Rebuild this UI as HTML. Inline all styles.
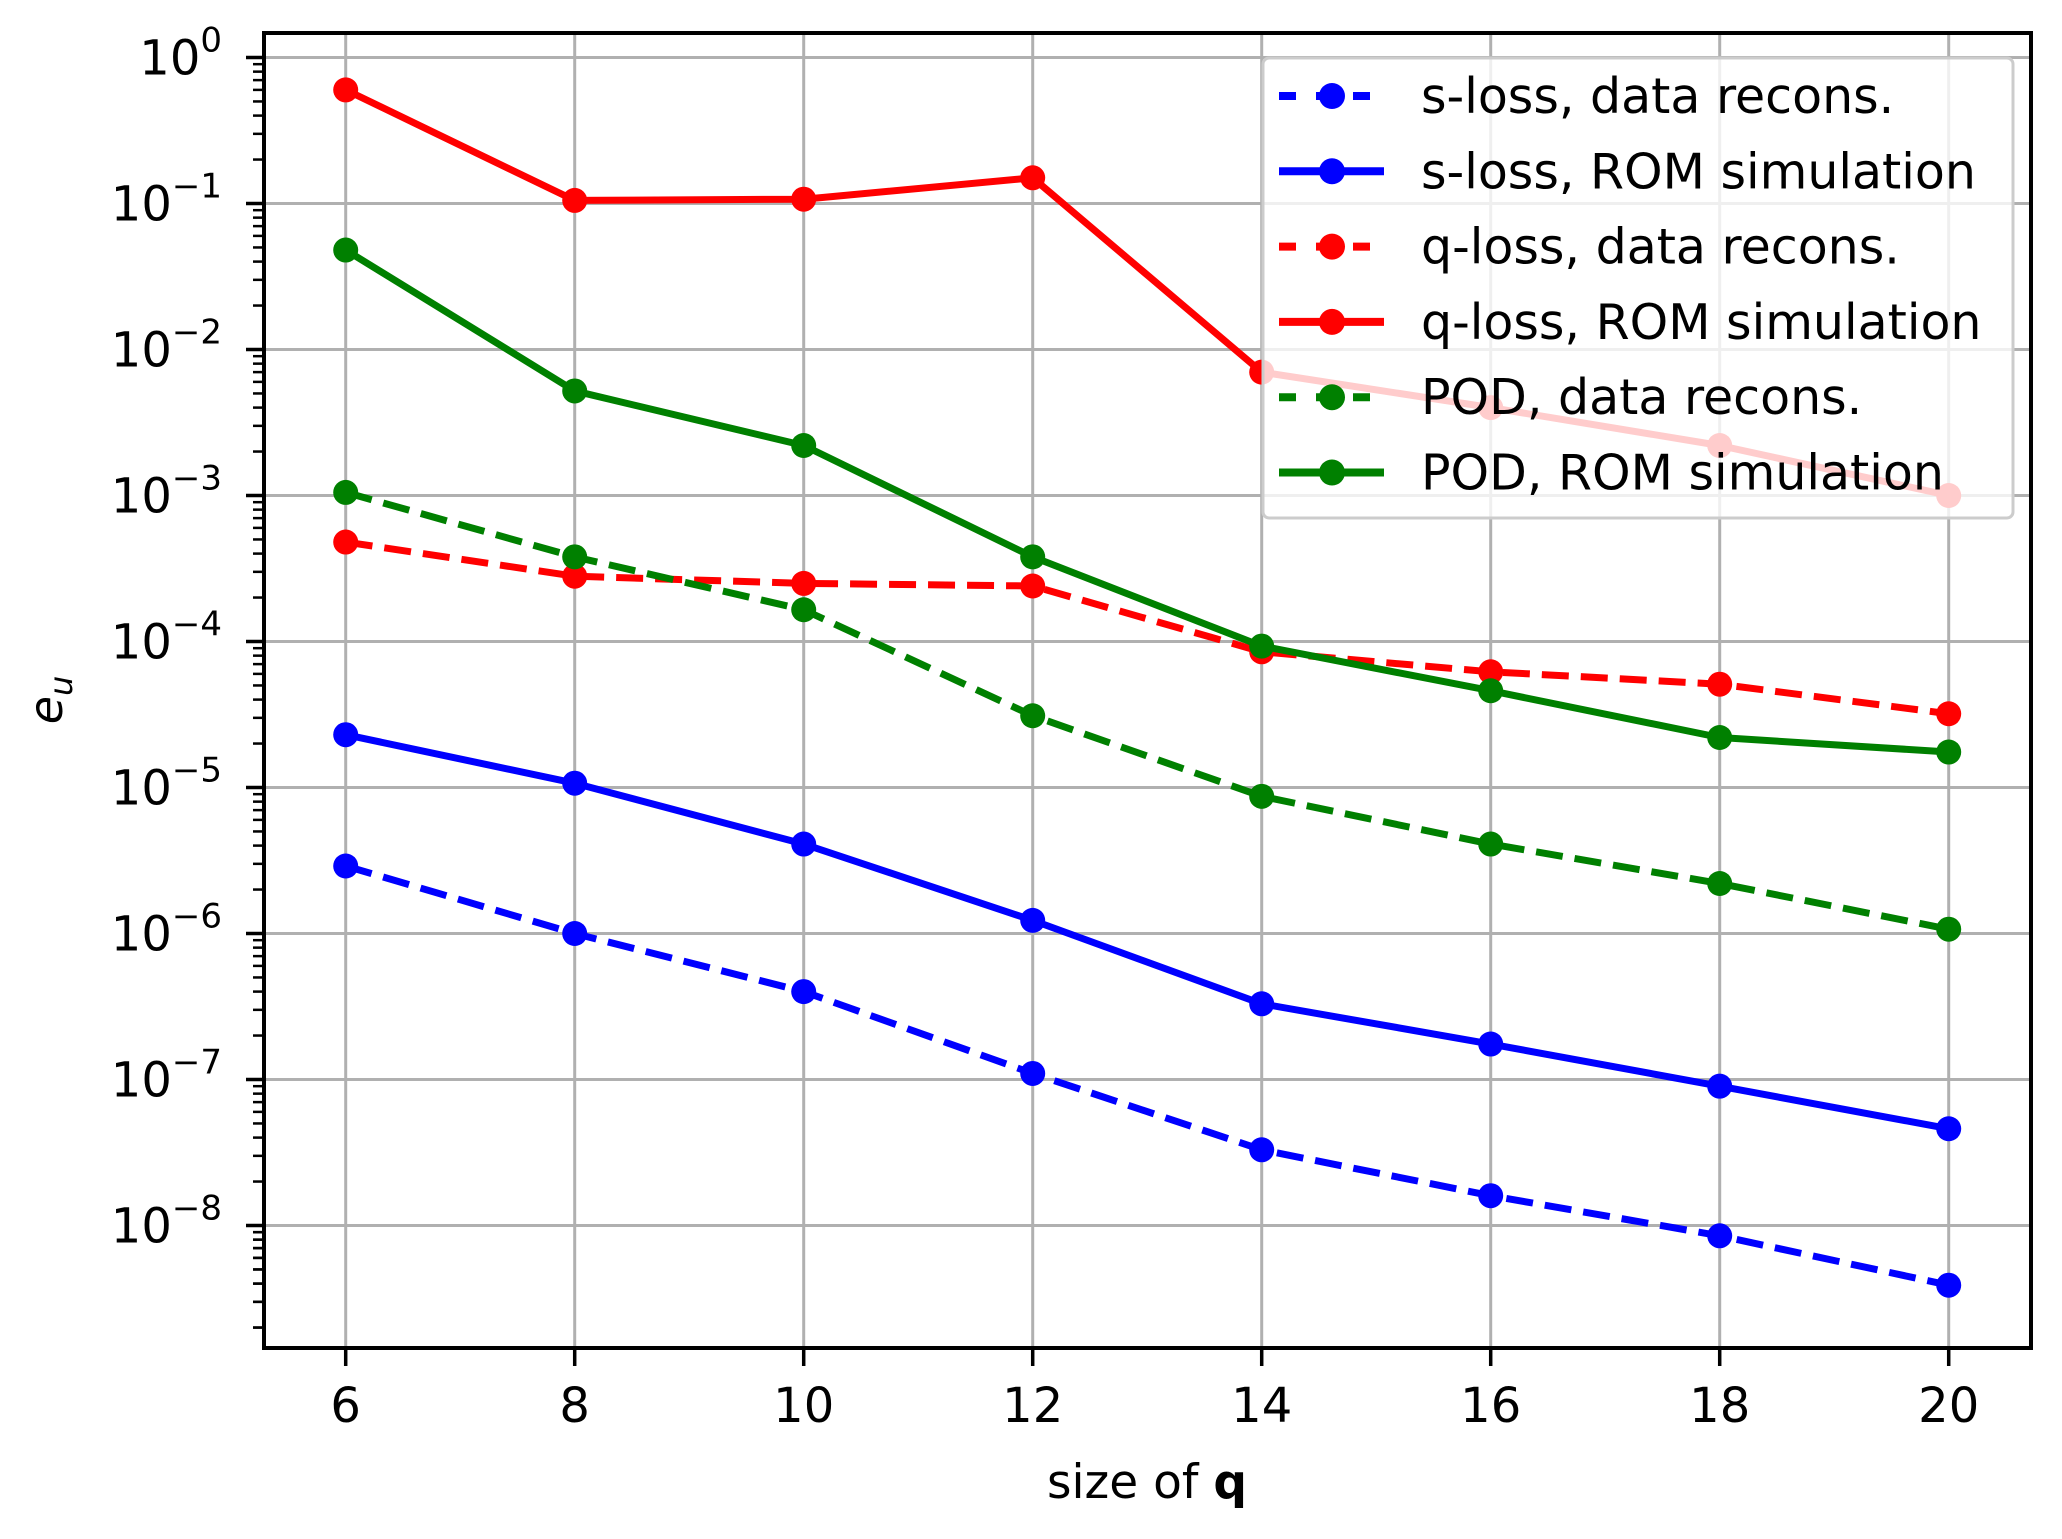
<!DOCTYPE html>
<html><head><meta charset="utf-8"><style>
html,body{margin:0;padding:0;background:#fff;}
svg{display:block;font-family:"DejaVu Sans","Liberation Sans",sans-serif;}
</style></head><body>
<svg id="chart" width="2062" height="1539" viewBox="0 0 2062 1539" xmlns="http://www.w3.org/2000/svg">
<rect width="2062" height="1539" fill="#fff"/>
<g id="grid"></g>
<g id="series"></g>
<g id="axes"></g>
<g id="legend"></g>
<text x="1147" y="1498" font-size="47" text-anchor="middle" fill="#000">size of <tspan font-weight="bold">q</tspan></text>
<text transform="translate(62,700) rotate(-90)" font-size="46" text-anchor="middle" fill="#000"><tspan font-style="italic">e</tspan><tspan font-size="32" dy="10" font-style="italic">u</tspan></text>
</svg>
<script>
const xCats = [6, 8, 10, 12, 14, 16, 18, 20];
const xTicks = [6, 8, 10, 12, 14, 16, 18, 20];
const yTickExps = [0, -1, -2, -3, -4, -5, -6, -7, -8];
const seriesNames = ["s-loss, data recons.", "s-loss, ROM simulation", "q-loss, data recons.", "q-loss, ROM simulation", "POD, data recons.", "POD, ROM simulation"];
const sLossData = [2.9e-6, 1.0e-6, 4.0e-7, 1.1e-7, 3.3e-8, 1.6e-8, 8.5e-9, 3.9e-9];
const sLossRom = [2.3e-5, 1.07e-5, 4.1e-6, 1.23e-6, 3.3e-7, 1.75e-7, 9.0e-8, 4.6e-8];
const qLossData = [4.8e-4, 2.8e-4, 2.5e-4, 2.4e-4, 8.5e-5, 6.2e-5, 5.1e-5, 3.2e-5];
const qLossRom = [0.6, 0.105, 0.107, 0.15, 7.0e-3, 4.0e-3, 2.2e-3, 1.0e-3];
const podData = [1.05e-3, 3.8e-4, 1.65e-4, 3.1e-5, 8.7e-6, 4.1e-6, 2.2e-6, 1.07e-6];
const podRom = [0.048, 5.2e-3, 2.2e-3, 3.8e-4, 9.3e-5, 4.6e-5, 2.2e-5, 1.75e-5];

const NS = "http://www.w3.org/2000/svg";
const L = 264, R = 2031, T = 33, B = 1348;
const X0 = 345.7, XS = (1948.7 - 345.7) / 14;
const Y0 = 57.5, DEC = 146.0;
function xPos(v){ return X0 + (v - 6) * XS; }
function yPos(v){ return Y0 - Math.log10(v) * DEC; }
function mk(tag, attrs, parent){
  const e = document.createElementNS(NS, tag);
  for (const k in attrs) e.setAttribute(k, attrs[k]);
  parent.appendChild(e);
  return e;
}
const grid = document.getElementById('grid');
const axes = document.getElementById('axes');
const seriesG = document.getElementById('series');
const legend = document.getElementById('legend');

xTicks.forEach(t => {
  const x = xPos(t);
  const g = mk('line', {x1:x, x2:x, y1:T, y2:B, stroke:'#b0b0b0', 'stroke-width':3}, grid);
  
  
  const tk = mk('line', {x1:x, x2:x, y1:B, y2:B+18, stroke:'#000', 'stroke-width':3.5}, axes);
  
  
  const lb = mk('text', {x:x, y:B+74, 'font-size':48, 'text-anchor':'middle', fill:'#000'}, axes);
  lb.textContent = t;
  
  
});
yTickExps.forEach(e => {
  const y = yPos(Math.pow(10, e));
  const g = mk('line', {x1:L, x2:R, y1:y, y2:y, stroke:'#b0b0b0', 'stroke-width':3}, grid);
  
  
  const tk = mk('line', {x1:L-18, x2:L, y1:y, y2:y, stroke:'#000', 'stroke-width':3.5}, axes);
  
  
  const lb = mk('text', {x:222, y:y+17, 'font-size':48, 'text-anchor':'end', fill:'#000'}, axes);
  
  
  const b = document.createElementNS(NS, 'tspan'); b.textContent = '10'; lb.appendChild(b);
  const s = document.createElementNS(NS, 'tspan'); s.setAttribute('dy', -23); s.setAttribute('font-size', 34);
  s.textContent = (e < 0 ? '\u2212' + (-e) : '' + e); lb.appendChild(s);
  for (let m = 2; m <= 9; m++) {
    const v = m * Math.pow(10, e - 1);
    const yy = yPos(v);
    if (yy > B || yy < T) continue;
    const mt = mk('line', {x1:L-11, x2:L, y1:yy, y2:yy, stroke:'#000', 'stroke-width':2.5}, axes);
    
    
  }
});
for (let m = 2; m <= 9; m++) {
  const yy = yPos(m * 1e-9);
  if (yy > B) continue;
  const mt = mk('line', {x1:L-11, x2:L, y1:yy, y2:yy, stroke:'#000', 'stroke-width':2.5}, axes);
  
  
}

const allSeries = [
  {vals:sLossData, color:'#0000ff', dash:true, name:'s-loss-data-recons'},
  {vals:sLossRom, color:'#0000ff', dash:false, name:'s-loss-rom-simulation'},
  {vals:qLossData, color:'#ff0000', dash:true, name:'q-loss-data-recons'},
  {vals:qLossRom, color:'#ff0000', dash:false, name:'q-loss-rom-simulation'},
  {vals:podData, color:'#008000', dash:true, name:'pod-data-recons'},
  {vals:podRom, color:'#008000', dash:false, name:'pod-rom-simulation'}
];
allSeries.forEach(s => {
  const g = mk('g', {}, seriesG);
  
  
  const pts = s.vals.map((v, i) => xPos(xCats[i]) + ',' + yPos(v)).join(' ');
  const pl = mk('polyline', {points:pts, fill:'none', stroke:s.color, 'stroke-width':7, 'stroke-linejoin':'round'}, g);
  if (s.dash) pl.setAttribute('stroke-dasharray', '27 12');
  
  
  s.vals.forEach((v, i) => {
    const c = mk('circle', {cx:xPos(xCats[i]), cy:yPos(v), r:12.5, fill:s.color}, g);
    
    
  });
});

const frame = mk('rect', {x:L, y:T, width:R-L, height:B-T, fill:'none', stroke:'#000', 'stroke-width':4}, axes);



const lb = mk('rect', {x:1263, y:58, width:750, height:460, rx:6, fill:'#fff', 'fill-opacity':0.8, stroke:'#cccccc', 'stroke-width':3}, legend);


allSeries.forEach((s, i) => {
  const y = 96 + i * 75.3;
  const g = mk('g', {}, legend);
  
  
  const ln = mk('line', {x1:1279, x2:1384, y1:y, y2:y, stroke:s.color, 'stroke-width':8}, g);
  if (s.dash) ln.setAttribute('stroke-dasharray', '17 20');
  
  
  const c = mk('circle', {cx:1332, cy:y, r:13, fill:s.color}, g);
  
  
  const t = mk('text', {x:1421, y:y+17, 'font-size':49, fill:'#000'}, g);
  t.textContent = seriesNames[i];
  
  
});
</script>
</body></html>
